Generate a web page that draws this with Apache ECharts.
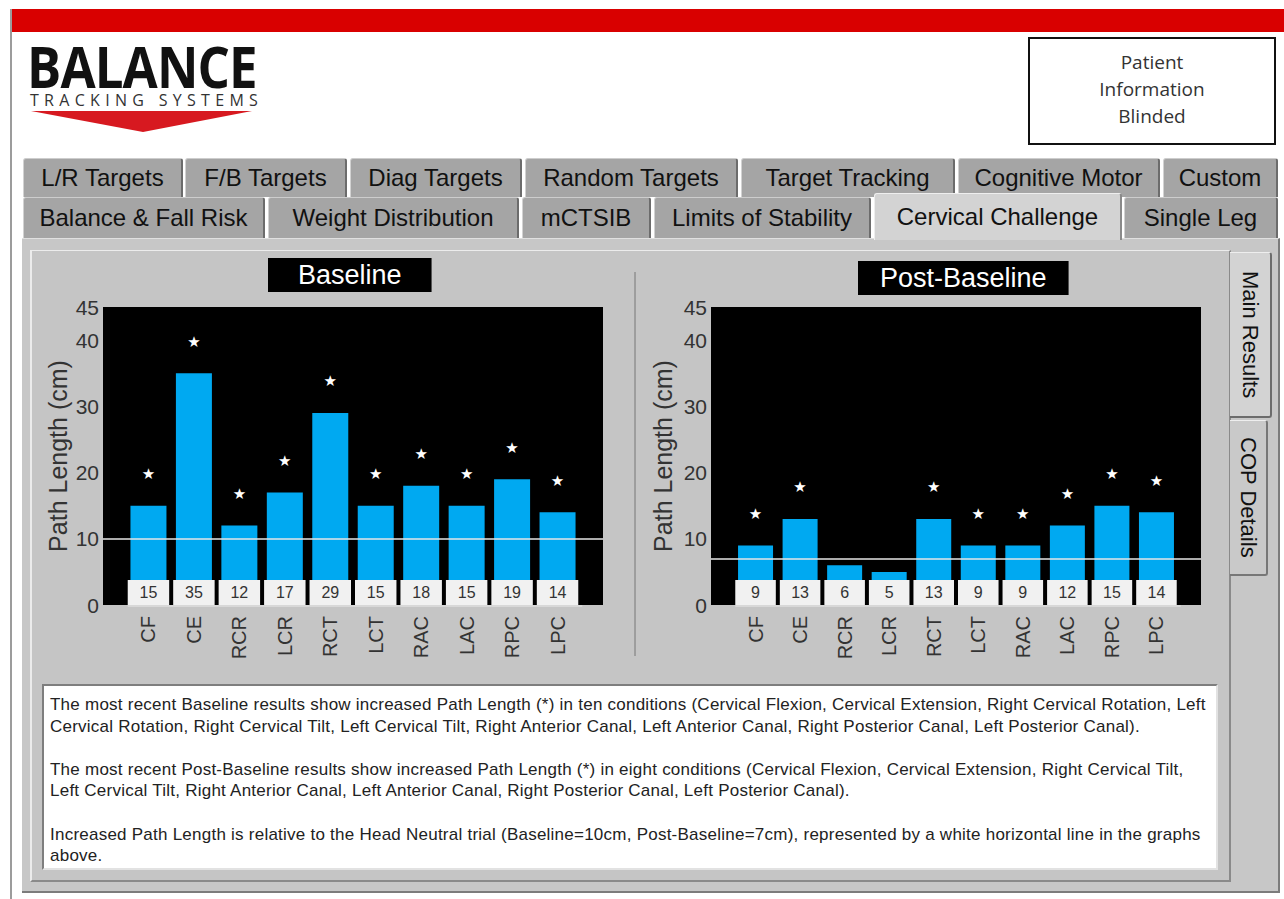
<!DOCTYPE html>
<html>
<head>
<meta charset="utf-8">
<title>Cervical Challenge</title>
<script src="https://cdn.jsdelivr.net/npm/echarts@6/dist/echarts.min.js"></script>
<style>
body{margin:0;background:#fff;font-family:"Liberation Sans",Arial,sans-serif;}
#page{position:relative;width:1284px;height:899px;overflow:hidden;background:#fff;}
.red_bar{position:absolute;left:11px;top:9px;width:1273px;height:23px;background:#d90000;}
.left_line{position:absolute;left:10px;top:9px;width:2px;height:890px;background:#9c9c9c;}
.logo{position:absolute;left:27px;top:45px;width:260px;font-family:"Open Sans";font-size:16px;line-height:14px;white-space:nowrap;}
.logo_big{display:inline-block;font-weight:bold;font-size:57px;letter-spacing:-1px;color:#111;line-height:42px;width:270px;
  transform:scaleX(0.895);transform-origin:0 0;}
.logo_small{position:relative;left:3px;top:4px;letter-spacing:5.3px;color:#333;}
.logo_arrow{position:absolute;left:31px;top:110px;}
.patient_box{position:absolute;left:1028px;top:37px;width:248px;height:108px;box-sizing:border-box;border:2px solid #111;background:#fff;
  text-align:center;font-family:"Open Sans";font-size:19px;line-height:27px;color:#333;padding-top:10px;}
.tab{position:absolute;box-sizing:border-box;background:#a5a5a5;border-top:1px solid #cdcdcd;border-left:1px solid #d2d2d2;border-right:2px solid #6c6c6c;
  border-radius:3px 3px 0 0;text-align:center;font-size:24px;color:#111;white-space:nowrap;}
.row1{top:158px;height:39px;line-height:38px;}
.row2{top:197px;height:41px;line-height:40px;}
.tab_on{top:193px;height:47px;line-height:46px;background:#d3d3d3;border-top:1px solid #eee;border-left:1px solid #eee;border-right:2px solid #8a8a8a;z-index:2;}
.outer_panel{position:absolute;left:22px;top:238px;width:1258px;height:655px;box-sizing:border-box;background:#c7c7c7;border-right:2px solid #7c7c7c;border-bottom:2px solid #7c7c7c;border-top:1px solid #e0e0e0;}
.inner_panel{position:absolute;left:30px;top:250px;width:1201px;height:632px;box-sizing:border-box;background:#c5c5c5;border-top:1px solid #ececec;border-left:2px solid #ececec;border-right:2px solid #8a8a8a;border-bottom:2px solid #8a8a8a;}
.side_tab{position:absolute;box-sizing:border-box;writing-mode:vertical-rl;text-align:center;font-size:22px;color:#111;white-space:nowrap;border-radius:0 3px 3px 0;}
.side_on{left:1230px;top:252px;width:42px;height:166px;background:#d3d3d3;border-top:1px solid #eee;border-right:2px solid #6c6c6c;border-bottom:2px solid #6c6c6c;line-height:40px;}
.side_off{left:1230px;top:420px;width:38px;height:156px;background:#c9c9c9;border-top:1px solid #eee;border-right:2px solid #777;border-bottom:2px solid #777;line-height:36px;}
.text_box{position:absolute;left:42px;top:684px;width:1176px;height:186px;box-sizing:border-box;background:#fff;border-top:2px solid #7e7e7e;border-left:2px solid #7e7e7e;
  border-right:2px solid #e2e2e2;border-bottom:2px solid #e2e2e2;padding:8px 0 0 6px;font-size:17px;letter-spacing:0.24px;line-height:21.6px;color:#222;white-space:nowrap;}
#chart{position:absolute;left:0;top:0;width:1284px;height:899px;z-index:5;}
</style>
</head>
<body>
<div id="page">
  <div class="red_bar"></div>
  <div class="left_line"></div>
  <div class="logo"><span class="logo_big">BALANCE</span><br><span class="logo_small">TRACKING SYSTEMS</span></div>
  <svg class="logo_arrow" width="224" height="24"><path d="M0 1 L221 1 L112 22 Z" fill="#d71920"/></svg>
  <div class="patient_box">Patient<br>Information<br>Blinded</div>

  <div class="tab row1" style="left:23px;width:160px;">L/R Targets</div>
  <div class="tab row1" style="left:185px;width:162px;">F/B Targets</div>
  <div class="tab row1" style="left:350px;width:172px;">Diag Targets</div>
  <div class="tab row1" style="left:525px;width:213px;">Random Targets</div>
  <div class="tab row1" style="left:741px;width:214px;">Target Tracking</div>
  <div class="tab row1" style="left:958px;width:202px;">Cognitive Motor</div>
  <div class="tab row1" style="left:1163px;width:115px;">Custom</div>
  <div class="tab row2" style="left:23px;width:242px;">Balance &amp; Fall Risk</div>
  <div class="tab row2" style="left:268px;width:251px;">Weight Distribution</div>
  <div class="tab row2" style="left:522px;width:129px;">mCTSIB</div>
  <div class="tab row2" style="left:654px;width:217px;">Limits of Stability</div>
  <div class="tab row2" style="left:1124px;width:154px;">Single Leg</div>

  <div class="outer_panel"></div>
  <div class="tab tab_on" style="left:874px;width:248px;">Cervical Challenge</div>
  <div class="inner_panel"></div>
  <div class="side_tab side_on">Main Results</div>
  <div class="side_tab side_off">COP Details</div>

  <div class="text_box">
    The most recent Baseline results show increased Path Length (*) in ten conditions (Cervical Flexion, Cervical Extension, Right Cervical Rotation, Left<br>
    Cervical Rotation, Right Cervical Tilt, Left Cervical Tilt, Right Anterior Canal, Left Anterior Canal, Right Posterior Canal, Left Posterior Canal).<br>
    <br>
    The most recent Post-Baseline results show increased Path Length (*) in eight conditions (Cervical Flexion, Cervical Extension, Right Cervical Tilt,<br>
    Left Cervical Tilt, Right Anterior Canal, Left Anterior Canal, Right Posterior Canal, Left Posterior Canal).<br>
    <br>
    Increased Path Length is relative to the Head Neutral trial (Baseline=10cm, Post-Baseline=7cm), represented by a white horizontal line in the graphs<br>
    above.
  </div>

  <div id="chart"></div>
</div>

<script>
// chart data
var categories = ['CF', 'CE', 'RCR', 'LCR', 'RCT', 'LCT', 'RAC', 'LAC', 'RPC', 'LPC'];
var baselineValues = [15, 35, 12, 17, 29, 15, 18, 15, 19, 14];
var postValues = [9, 13, 6, 5, 13, 9, 9, 12, 15, 14];
var baselineStars = [true, true, true, true, true, true, true, true, true, true];
var postStars = [true, true, false, false, true, true, true, true, true, true];
var baselineRef = 10;
var postRef = 7;
var yMin = 0, yMax = 45, yStep = 10;

// empty slot on each end of the category axis
function padCats(arr){
	return [''].concat(arr).concat(['']);
}
function barData(vals, stars){
	var out = ['-'];
	for (var i = 0; i < vals.length; i++) {
		out.push({value: vals[i], label: {show: stars[i]}});
	}
	out.push('-');
	return out;
}
function boxData(vals){
	var out = [];
	for (var i = 0; i < vals.length; i++) {
		out.push([i + 1, vals[i]]);
	}
	return out;
}

// white value boxes along the bottom of each plot
function boxItem(params, api){
	var pt = api.coord([api.value(0), 0]);
	var bw = api.size([1, 0])[0];
	var h = 25;
	return {
		type: 'group',
		children: [
			{type: 'rect', shape: {x: pt[0] - bw / 2 + 2, y: pt[1] - h, width: bw - 4, height: h},
				style: {fill: '#f1f1f1'}},
			{type: 'rect', shape: {x: pt[0] - bw / 2 + 2, y: pt[1], width: bw, height: 2},
				style: {fill: '#d8d8d8'}},
			{type: 'text', x: pt[0], y: pt[1] - h / 2,
				style: {text: String(api.value(1)), align: 'center', verticalAlign: 'middle',
					fill: '#333', fontSize: 16, fontFamily: 'Liberation Sans'}}
		]
	};
}

var fontName = 'Liberation Sans';

function makeX(idx){
	return {
		type: 'category', gridIndex: idx, data: padCats(categories), boundaryGap: false,
		axisLine: {show: false}, axisTick: {show: false},
		axisLabel: {rotate: 90, interval: 0, margin: 11, fontSize: 20, color: '#333', fontFamily: fontName}
	};
}
function makeY(idx, gap){
	return {
		type: 'value', gridIndex: idx, min: yMin, max: yMax, interval: yStep,
		name: 'Path Length (cm)', nameLocation: 'middle', nameGap: gap,
		nameTextStyle: {fontSize: 25, color: '#333', fontFamily: fontName},
		axisLine: {show: false}, axisTick: {show: false}, splitLine: {show: false},
		axisLabel: {margin: 4, fontSize: 21, color: '#333', fontFamily: fontName}
	};
}
function makeBars(idx, vals, stars, ref, width){
	return {
		type: 'bar', xAxisIndex: idx, yAxisIndex: idx, data: barData(vals, stars), barWidth: width,
		itemStyle: {color: '#00a9f1'},
		label: {show: false, position: 'top', distance: 24, formatter: '\u2605', color: '#fff',
			fontSize: 15, fontFamily: 'DejaVu Sans'},
		markLine: {
			silent: true, symbol: 'none', label: {show: false},
			lineStyle: {color: '#e6e6e6', width: 1.5, type: 'solid'},
			data: [{yAxis: ref}]
		}
	};
}
function makeBoxes(idx, vals){
	return {
		type: 'custom', xAxisIndex: idx, yAxisIndex: idx, z: 4,
		data: boxData(vals), renderItem: boxItem
	};
}

var myChart = echarts.init(document.getElementById('chart'), null, {renderer: 'svg'});
var option = {
	animation: false,
	title: [
		{text: 'Baseline', left: 268, top: 258, backgroundColor: '#000', padding: [3, 30, 4, 30],
			textStyle: {color: '#fff', fontSize: 27, fontWeight: 'normal', fontFamily: fontName}},
		{text: 'Post-Baseline', left: 858, top: 261, backgroundColor: '#000', padding: [3, 22, 4, 22],
			textStyle: {color: '#fff', fontSize: 27, fontWeight: 'normal', fontFamily: fontName}}
	],
	grid: [
		{left: 103, top: 307, width: 500, height: 298, show: true, backgroundColor: '#000', borderWidth: 0},
		{left: 711, top: 307, width: 490, height: 298, show: true, backgroundColor: '#000', borderWidth: 0}
	],
	xAxis: [makeX(0), makeX(1)],
	yAxis: [makeY(0, 33), makeY(1, 36)],
	series: [
		makeBars(0, baselineValues, baselineStars, baselineRef, 36),
		makeBoxes(0, baselineValues),
		makeBars(1, postValues, postStars, postRef, 35),
		makeBoxes(1, postValues)
	],
	graphic: [
		{type: 'line', shape: {x1: 635, y1: 272, x2: 635, y2: 656}, style: {stroke: '#777', lineWidth: 1}}
	]
};
myChart.setOption(option);
</script>
</body>
</html>
